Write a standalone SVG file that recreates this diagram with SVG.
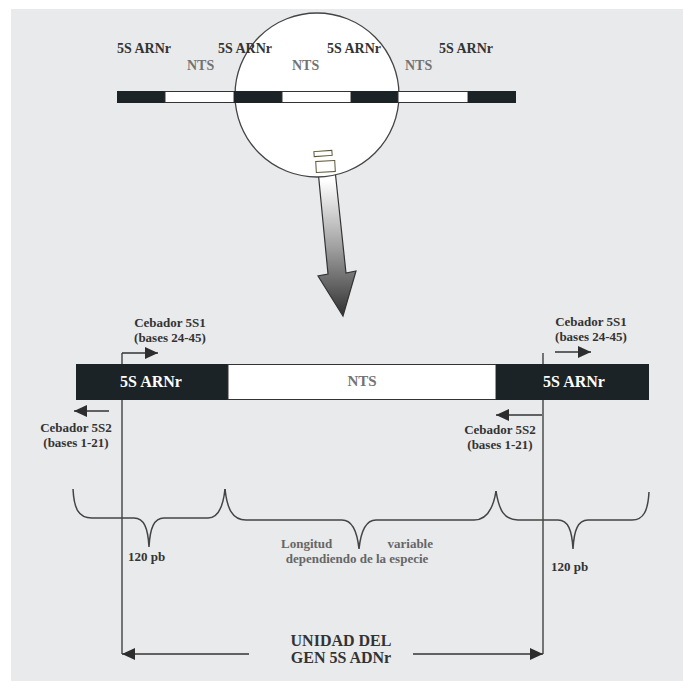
<svg xmlns="http://www.w3.org/2000/svg" width="683" height="681" viewBox="0 0 683 681">
  <style>
    .lbl { font-family: "Liberation Serif", "Times New Roman", serif; font-weight: bold; fill: #333; }
    .top { font-size: 14px; }
    .nts { fill: #737373; }
    .wht { fill: #ffffff; font-size: 16px; }
    .sm { font-size: 13px; }
    .big { font-size: 16px; }
    .grey { fill: #666; }
    .dk { fill: #1b2327; }
    .wt { fill: #ffffff; stroke: #333; stroke-width: 1; }
    .ln { fill: none; stroke: #333; stroke-width: 1.3; }
    .brace { fill: none; stroke: #444; stroke-width: 1.5; }
  </style>
  <defs>
    <marker id="ah" markerUnits="userSpaceOnUse" markerWidth="14" markerHeight="12" refX="13" refY="6" orient="auto">
      <path d="M0,0 L13,6 L0,12 z" fill="#2d2d2d"/>
    </marker>
    <linearGradient id="grad" gradientUnits="userSpaceOnUse" x1="0" y1="180" x2="0" y2="315">
      <stop offset="0" stop-color="#ffffff"/>
      <stop offset="0.5" stop-color="#a0a0a0"/>
      <stop offset="1" stop-color="#333"/>
    </linearGradient>
  </defs>

  <rect x="0" y="0" width="683" height="681" fill="#ffffff"/>
  <rect x="11" y="9" width="672" height="672" fill="#e9eaec"/>

  <!-- big gradient arrow -->
  <g id="bigArrow">
    <path d="M318,170 L328,274 L318,276 L343,316 L356,271 L346,273 L335,170 Z" fill="url(#grad)" stroke="#333" stroke-width="1.2"/>
  </g>

  <!-- magnifier circle -->
  <g id="circle">
    <circle cx="317" cy="95" r="82" fill="#ffffff" stroke="#444" stroke-width="1.3"/>
    <rect x="314" y="151" width="18" height="5" fill="#fff" stroke="#5a5432" stroke-width="1" transform="rotate(-4 323 153)"/>
    <rect x="316" y="161" width="19" height="11" fill="#fff" stroke="#5a5432" stroke-width="1" transform="rotate(-3 325 166)"/>
  </g>

  <!-- top repeat bar -->
  <g id="topBar">
    <rect class="dk" x="117" y="91" width="48" height="12"/>
    <rect class="wt" x="165" y="91.5" width="69" height="11"/>
    <rect class="dk" x="234" y="91" width="48" height="12"/>
    <rect class="wt" x="282" y="91.5" width="69" height="11"/>
    <rect class="dk" x="351" y="91" width="47" height="12"/>
    <rect class="wt" x="398" y="91.5" width="70" height="11"/>
    <rect class="dk" x="468" y="91" width="48" height="12"/>
  </g>

  <g id="topLabels">
    <text class="lbl top" x="117" y="53">5S ARNr</text>
    <text class="lbl top" x="218" y="53">5S  ARNr</text>
    <text class="lbl top" x="327" y="53">5S ARNr</text>
    <text class="lbl top" x="439" y="53">5S ARNr</text>
    <text class="lbl top nts" x="187" y="70">NTS</text>
    <text class="lbl top nts" x="292" y="70">NTS</text>
    <text class="lbl top nts" x="405" y="70">NTS</text>
  </g>

  <!-- connectors -->
  <g id="connectors">
    <path class="ln" d="M122,353 V654"/>
    <path class="ln" d="M543,353 V654"/>
    <path class="ln" d="M122,353 H158" marker-end="url(#ah)"/>
    <path class="ln" d="M555,352 H591" marker-end="url(#ah)"/>
    <path class="ln" d="M109,411 H74" marker-end="url(#ah)"/>
    <path class="ln" d="M542,415 H496" marker-end="url(#ah)"/>
    <path class="ln" d="M249,654 H122" marker-end="url(#ah)"/>
    <path class="ln" d="M413,654 H543" marker-end="url(#ah)"/>
  </g>

  <!-- lower gene unit bar -->
  <g id="lowerBar">
    <rect class="dk" x="76" y="364" width="152" height="36"/>
    <rect class="wt" x="228" y="364.5" width="268" height="35"/>
    <rect class="dk" x="496" y="364" width="153" height="36"/>
    <text class="lbl wht" x="151" y="387" text-anchor="middle">5S ARNr</text>
    <text class="lbl wht" x="574" y="387" text-anchor="middle">5S ARNr</text>
    <text class="lbl nts" x="362" y="386" text-anchor="middle" font-size="15">NTS</text>
  </g>

  <g id="primers">
    <text class="lbl sm" x="170" y="327" text-anchor="middle">Cebador 5S1</text>
    <text class="lbl sm" x="170" y="342" text-anchor="middle">(bases 24-45)</text>
    <text class="lbl sm" x="591" y="326" text-anchor="middle">Cebador 5S1</text>
    <text class="lbl sm" x="591" y="341" text-anchor="middle">(bases 24-45)</text>
    <text class="lbl sm" x="76" y="432" text-anchor="middle">Cebador 5S2</text>
    <text class="lbl sm" x="76" y="447" text-anchor="middle">(bases 1-21)</text>
    <text class="lbl sm" x="500" y="434" text-anchor="middle">Cebador 5S2</text>
    <text class="lbl sm" x="500" y="449" text-anchor="middle">(bases 1-21)</text>
  </g>

  <!-- braces -->
  <g id="braces">
    <path class="brace" d="M73,489 C74,508 78,518 92,518 L134,518 C144,518 148,528 149,547 C150,528 154,518 164,518 L208,518 C218,518 223,508 225,489"/>
    <path class="brace" d="M225,489 C227,508 232,520 246,520 L342,520 C352,520 357,530 359,549 C361,530 366,520 376,520 L474,520 C486,520 493,510 496,491"/>
    <path class="brace" d="M496,491 C499,510 504,520 518,520 L558,520 C568,520 572,530 573,549 C574,530 578,520 588,520 L632,520 C644,520 648,510 649,492"/>
  </g>

  <g id="lengths">
    <text class="lbl sm" x="128" y="561">120 pb</text>
    <text class="lbl sm" x="551" y="571">120 pb</text>
    <text class="lbl sm grey" x="281" y="548">Longitud</text>
    <text class="lbl sm grey" x="433" y="548" text-anchor="end">variable</text>
    <text class="lbl sm grey" x="357" y="563" text-anchor="middle">dependiendo de la especie</text>
  </g>

  <g id="unitLabel">
    <text class="lbl big" x="341" y="646" text-anchor="middle">UNIDAD DEL</text>
    <text class="lbl big" x="341" y="663" text-anchor="middle">GEN 5S ADNr</text>
  </g>
</svg>
